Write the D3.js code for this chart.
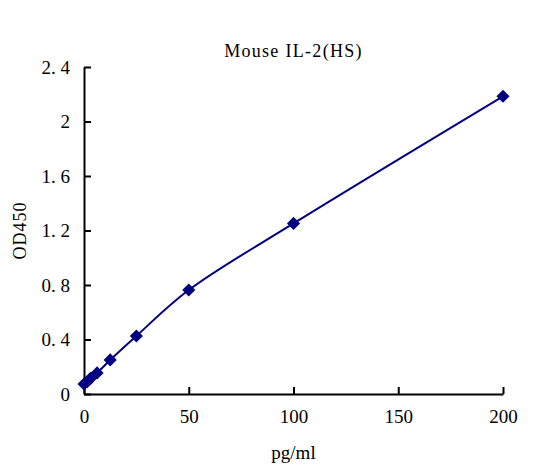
<!DOCTYPE html>
<html>
<head>
<meta charset="utf-8">
<script src="https://cdn.jsdelivr.net/npm/d3@7"></script>
<style>
  body { margin: 0; background: #fff; }
  text { font-family: "Liberation Serif", "DejaVu Serif", serif; fill: #000; }
</style>
</head>
<body>
<svg></svg>
<script>
var w = 533, h = 473;

// standard curve data
var conc = [0, 1.56, 3.125, 6.25, 12.5, 25, 50, 100, 200];
var od = [0.073, 0.09, 0.115, 0.155, 0.25, 0.426, 0.763, 1.252, 2.185];
var xTicks = [0, 50, 100, 150, 200];
var yTicks = [0, 0.4, 0.8, 1.2, 1.6, 2, 2.4];

var margin = { left: 84, right: 30, top: 67, bottom: 79 };

var svg = d3.select("svg")
    .attr("width", w)
    .attr("height", h);

var x = d3.scaleLinear().domain([0, 200]).range([margin.left, w - margin.right]);
var y = d3.scaleLinear().domain([0, 2.4]).range([h - margin.bottom, margin.top]);

// x axis, ticks pointing up
var xAxis = svg.append("g")
    .attr("transform", "translate(0," + y(0) + ")")
    .call(d3.axisBottom(x).tickValues(xTicks).tickSizeInner(-7).tickSizeOuter(0).tickPadding(16));
xAxis.select(".domain").attr("stroke-width", 2);
xAxis.selectAll(".tick line").attr("stroke-width", 2);
xAxis.selectAll("text").style("font-size", "19px").attr("dy", "0.71em");

// y axis, ticks pointing right
var yAxis = svg.append("g")
    .attr("transform", "translate(" + x(0) + ",0)")
    .call(d3.axisLeft(y).tickValues(yTicks).tickSizeInner(-7).tickSizeOuter(0).tickPadding(14)
        .tickFormat(d => d === 0 ? "0" : d3.format("")(d).replace(".", ". ")));
yAxis.select(".domain").attr("stroke-width", 2);
yAxis.selectAll(".tick line").attr("stroke-width", 2);
yAxis.selectAll("text").style("font-size", "19px");

// titles
svg.append("text")
    .attr("x", (x(0) + x(200)) / 2)
    .attr("y", 57)
    .attr("text-anchor", "middle")
    .style("font-size", "18px")
    .style("letter-spacing", "1.3px")
    .text("Mouse IL-2(HS)");

svg.append("text")
    .attr("x", (x(0) + x(200)) / 2)
    .attr("y", 459)
    .attr("text-anchor", "middle")
    .style("font-size", "19px")
    .text("pg/ml");

svg.append("text")
    .attr("transform", "translate(26," + ((y(0) + y(2.4)) / 2) + ") rotate(-90)")
    .attr("text-anchor", "middle")
    .style("font-size", "18px")
    .style("letter-spacing", "1px")
    .text("OD450");

var pts = conc.map((c, i) => ({ c: c, v: od[i] }));

var line = d3.line()
    .x(d => x(d.c))
    .y(d => y(d.v))
    .curve(d3.curveCatmullRom.alpha(0.5));

svg.append("path")
    .datum(pts)
    .attr("d", line)
    .attr("fill", "none")
    .attr("stroke", "#000080")
    .attr("stroke-width", 2);

svg.selectAll(".pt")
    .data(pts)
    .enter().append("path")
    .attr("class", "pt")
    .attr("transform", d => "translate(" + x(d.c) + "," + y(d.v) + ")")
    .attr("d", d3.symbol().type(d3.symbolDiamond2).size(110))
    .attr("fill", "#000080");
</script>
</body>
</html>
